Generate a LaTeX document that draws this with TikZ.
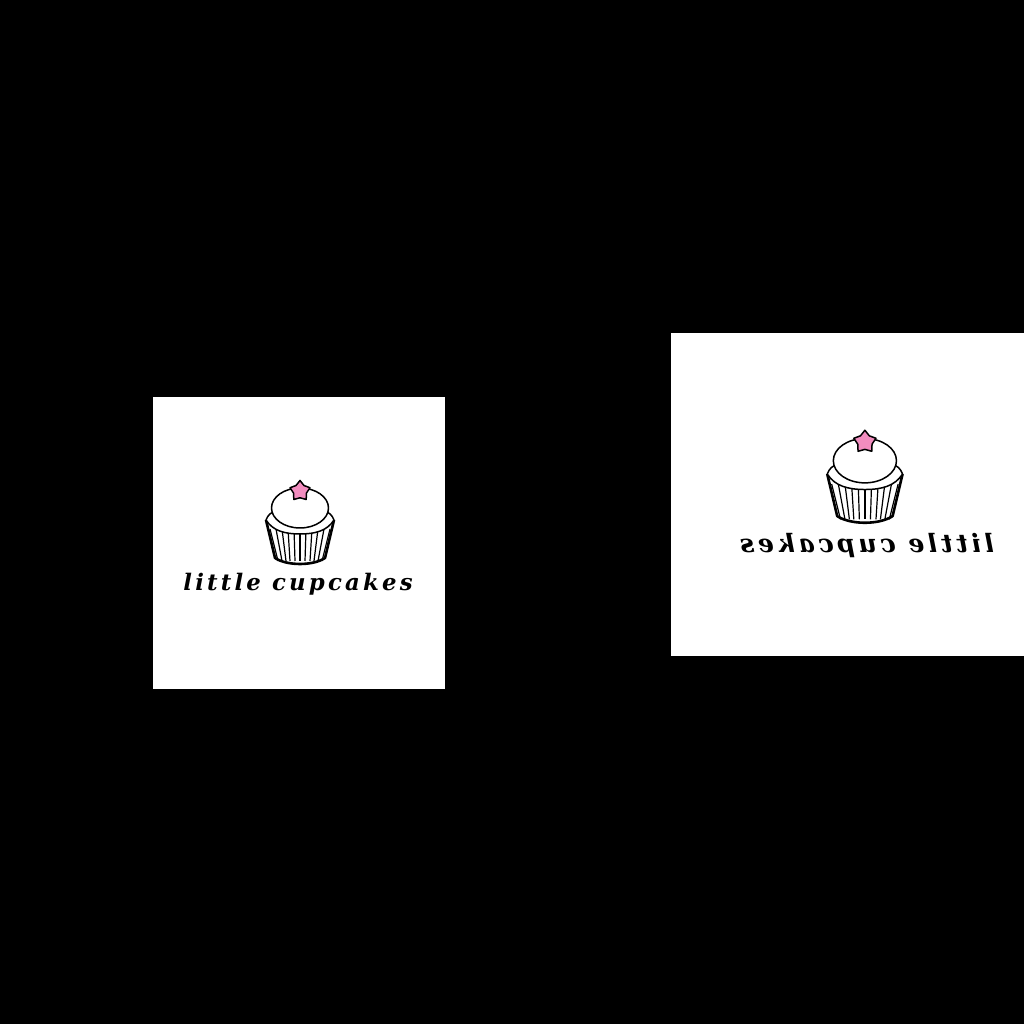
\documentclass[tikz,border=0pt]{standalone}
\usepackage{fontspec}
\usetikzlibrary{shapes.geometric}
\newfontfamily\logofont[LetterSpace=14]{DejaVu Serif}
\definecolor{starpink}{HTML}{F28DBF}
\tikzset{
  card/.style={fill=white,draw=none},
  liner/.style={line width=1.2pt,black},
  outline/.style={line width=1.5pt,black,line join=round},
  sprinkle/.style={star,star points=5,star point ratio=1.55,draw=black,line width=1.5pt,line join=round,fill=starpink,minimum size=21pt,inner sep=0pt,transform shape},
  logotext/.style={font=\logofont\bfseries\itshape\fontsize{22.8}{23}\selectfont,inner sep=0pt,transform shape}
}
\newcommand{\cupcake}[1]{%
  % wrapper
  \fill[white] (-33,23) -- (-24,-15) .. controls (-12,-23) and (14,-23) .. (26,-15) -- (35,23) -- cycle;
  \foreach \top/\bot in {-29/-21,-23/-17,-17/-13,-11/-9,-5/-4,1/1,7/6,13/11,19/15,25/19,31/23}
    \draw[liner] (\top,14) -- (\bot,-18);
  \draw[line width=2.6pt,line join=round] (-33,23) -- (-24,-15) .. controls (-12,-23) and (14,-23) .. (26,-15) -- (35,23);
  % lower icing
  \draw[outline,fill=white] (-33,23) .. controls (-26,12) and (-14,9) .. (1,9) .. controls (16,9) and (28,12) .. (35,23) .. controls (33,28) and (30,31) .. (26,31) -- (-24,31) .. controls (-28,31) and (-31,28) .. (-33,23) -- cycle;
  % dome
  \draw[outline,fill=white] (1,35) ellipse [x radius=28.5,y radius=20];
  \node[sprinkle] (#1star) at (1,52) {};
  \node[logotext] (#1text) at (-1,-41.5) {little cupcakes};
}
\begin{document}
\begin{tikzpicture}[x=1pt,y=1pt]
  \useasboundingbox (0,0) rectangle (1024,1024);
  \fill[black] (0,0) rectangle (1024,1024);
  \fill[card] (153,335) rectangle (445,627);
  \fill[card] (671,368) rectangle (1024,691);

  \begin{scope}[shift={(299,481)}]
    \cupcake{left}
  \end{scope}
  \begin{scope}[shift={(866,524.5)},xscale=-1.108,yscale=1.108]
    \cupcake{right}
  \end{scope}
\end{tikzpicture}
\end{document}
